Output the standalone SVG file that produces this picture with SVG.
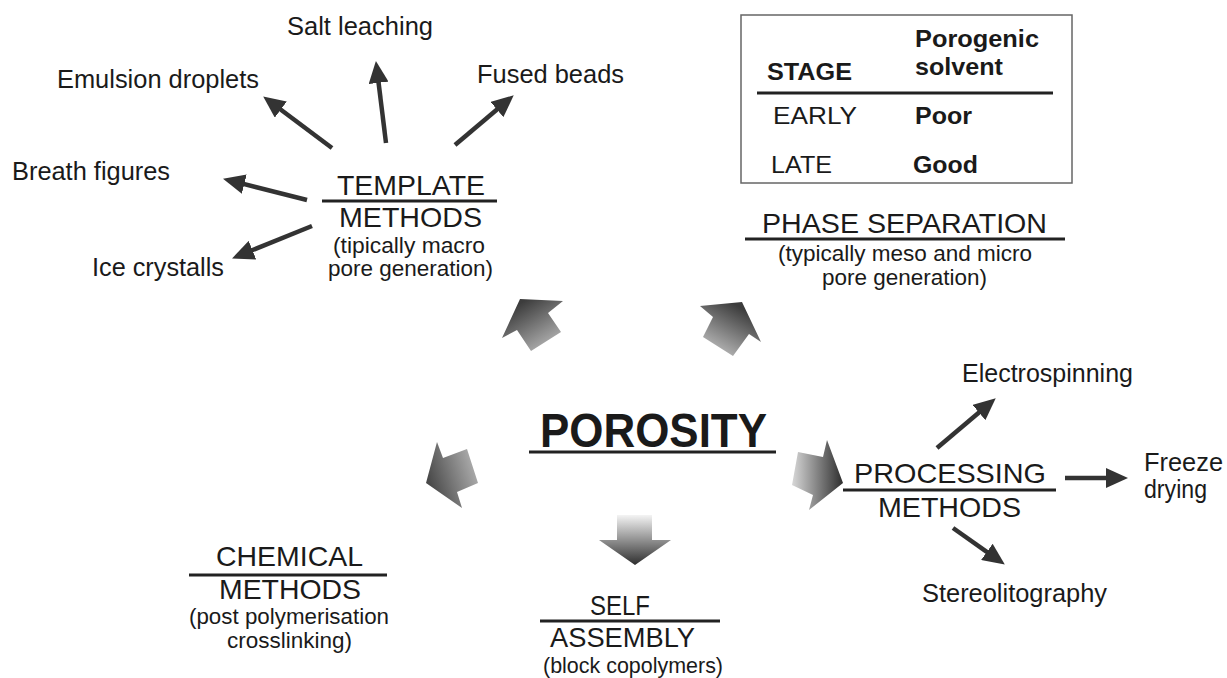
<svg xmlns="http://www.w3.org/2000/svg" width="1227" height="678" viewBox="0 0 1227 678">
<style>
text{font-family:"Liberation Sans",Arial,sans-serif;fill:#1a1a1a}
.lab{font-size:25px}
.hd{font-size:28px}
.sm{font-size:22px}
.b{font-weight:bold}
.ul{stroke:#222;stroke-width:3}
.con{stroke:#333;stroke-width:4.5;fill:none;marker-end:url(#ah)}
</style>
<defs>
<marker id="ah" viewBox="0 0 22 20" refX="9" refY="10" markerWidth="22" markerHeight="20" markerUnits="userSpaceOnUse" orient="auto">
<path d="M0,0 L22,10 L0,20 z" fill="#333"/>
</marker>
<linearGradient id="g1" gradientUnits="userSpaceOnUse" x1="522" y1="302" x2="550" y2="348"><stop offset="0" stop-color="#3c3c3c"/><stop offset="1" stop-color="#b4b4b4"/></linearGradient>
<linearGradient id="g2" gradientUnits="userSpaceOnUse" x1="738" y1="306" x2="712" y2="352"><stop offset="0" stop-color="#3c3c3c"/><stop offset="1" stop-color="#bcbcbc"/></linearGradient>
<linearGradient id="g3" gradientUnits="userSpaceOnUse" x1="428" y1="478" x2="478" y2="462"><stop offset="0" stop-color="#4a4a4a"/><stop offset="1" stop-color="#b4b4b4"/></linearGradient>
<linearGradient id="g4" gradientUnits="userSpaceOnUse" x1="0" y1="515" x2="0" y2="565"><stop offset="0" stop-color="#f4f4f4"/><stop offset="1" stop-color="#2e2e2e"/></linearGradient>
<linearGradient id="g5" gradientUnits="userSpaceOnUse" x1="792" y1="0" x2="843" y2="0"><stop offset="0" stop-color="#d8d8d8"/><stop offset="1" stop-color="#2e2e2e"/></linearGradient>
</defs>

<g id="connectors">
<line class="con" x1="332" y1="148" x2="273.6" y2="104.2"/>
<line class="con" x1="386" y1="143" x2="377.5" y2="73.9"/>
<line class="con" x1="455" y1="145" x2="503.8" y2="103.7"/>
<line class="con" x1="307" y1="200" x2="235.6" y2="181.9"/>
<line class="con" x1="312" y1="226" x2="244.1" y2="253.5"/>
<line class="con" x1="937" y1="448" x2="985.8" y2="406.7"/>
<line class="con" x1="1065" y1="478" x2="1115" y2="478"/>
<line class="con" x1="953" y1="528" x2="994.2" y2="557.1"/>
<polygon id="arrow-template" fill="url(#g1)" points="520,299 563,301 548,313 561,332 531,351 517,330 502,338"/>
<polygon id="arrow-phase" fill="url(#g2)" points="700,306 742,302 761,342 749,334 733,356 703,337 713,317"/>
<polygon id="arrow-chemical" fill="url(#g3)" points="437,442 443,458 467,449 478,483 457,492 462,508 426,483"/>
<polygon id="arrow-self" fill="url(#g4)" points="617,515 652,515 652,540 671,540 635,565 599,540 617,540"/>
<polygon id="arrow-processing" fill="url(#g5)" points="798,452 823,457 827,440 843,483 809,510 813,495 792,485"/>
</g>

<g id="porosity">
<text class="b" x="540" y="447" font-size="48" textLength="227" lengthAdjust="spacingAndGlyphs">POROSITY</text>
<line class="ul" x1="529" y1="452" x2="776" y2="452"/>
</g>

<g id="template">
<text class="hd" x="337" y="195" textLength="148" lengthAdjust="spacingAndGlyphs">TEMPLATE</text>
<line class="ul" x1="322" y1="201" x2="497" y2="201"/>
<text class="hd" x="339" y="227" textLength="143" lengthAdjust="spacingAndGlyphs">METHODS</text>
<text class="sm" x="333" y="253" textLength="152" lengthAdjust="spacingAndGlyphs">(tipically macro</text>
<text class="sm" x="328" y="276" textLength="165" lengthAdjust="spacingAndGlyphs">pore generation)</text>
</g>

<g id="salt"><text class="lab" x="287" y="35" textLength="146" lengthAdjust="spacingAndGlyphs">Salt leaching</text></g>
<g id="emulsion"><text class="lab" x="57" y="88" textLength="202" lengthAdjust="spacingAndGlyphs">Emulsion droplets</text></g>
<g id="fused"><text class="lab" x="477" y="83" textLength="147" lengthAdjust="spacingAndGlyphs">Fused beads</text></g>
<g id="breath"><text class="lab" x="12" y="180" textLength="158" lengthAdjust="spacingAndGlyphs">Breath figures</text></g>
<g id="ice"><text class="lab" x="92" y="276" textLength="132" lengthAdjust="spacingAndGlyphs">Ice crystalls</text></g>

<g id="table">
<rect x="741" y="15" width="331" height="168" fill="none" stroke="#666" stroke-width="1.5"/>
<text class="b" x="767" y="80" font-size="24" textLength="85" lengthAdjust="spacingAndGlyphs">STAGE</text>
<text class="b" x="915" y="47" font-size="24" textLength="124" lengthAdjust="spacingAndGlyphs">Porogenic</text>
<text class="b" x="915" y="75" font-size="24" textLength="88" lengthAdjust="spacingAndGlyphs">solvent</text>
<line class="ul" x1="757" y1="93" x2="1053" y2="93"/>
<text x="773" y="124" font-size="24" textLength="84" lengthAdjust="spacingAndGlyphs">EARLY</text>
<text class="b" x="915" y="124" font-size="24" textLength="57" lengthAdjust="spacingAndGlyphs">Poor</text>
<text x="771" y="173" font-size="24" textLength="61" lengthAdjust="spacingAndGlyphs">LATE</text>
<text class="b" x="913" y="173" font-size="24" textLength="65" lengthAdjust="spacingAndGlyphs">Good</text>
</g>

<g id="phase">
<text class="hd" x="762" y="233" textLength="285" lengthAdjust="spacingAndGlyphs">PHASE SEPARATION</text>
<line class="ul" x1="745" y1="239" x2="1065" y2="239"/>
<text class="sm" x="778" y="261" textLength="254" lengthAdjust="spacingAndGlyphs">(typically meso and micro</text>
<text class="sm" x="822" y="285" textLength="165" lengthAdjust="spacingAndGlyphs">pore generation)</text>
</g>

<g id="chemical">
<text class="hd" x="216" y="566" textLength="147" lengthAdjust="spacingAndGlyphs">CHEMICAL</text>
<line class="ul" x1="189" y1="575" x2="387" y2="575"/>
<text class="hd" x="219" y="599" textLength="142" lengthAdjust="spacingAndGlyphs">METHODS</text>
<text class="sm" x="189" y="624" textLength="200" lengthAdjust="spacingAndGlyphs">(post polymerisation</text>
<text class="sm" x="227" y="648" textLength="125" lengthAdjust="spacingAndGlyphs">crosslinking)</text>
</g>

<g id="self">
<text class="hd" x="590" y="615" textLength="60" lengthAdjust="spacingAndGlyphs">SELF</text>
<line class="ul" x1="540" y1="621" x2="720" y2="621"/>
<text class="hd" x="550" y="647" textLength="145" lengthAdjust="spacingAndGlyphs">ASSEMBLY</text>
<text class="sm" x="543" y="673" textLength="180" lengthAdjust="spacingAndGlyphs">(block copolymers)</text>
</g>

<g id="processing">
<text class="hd" x="854" y="483" textLength="192" lengthAdjust="spacingAndGlyphs">PROCESSING</text>
<line class="ul" x1="843" y1="490" x2="1056" y2="490"/>
<text class="hd" x="878" y="517" textLength="143" lengthAdjust="spacingAndGlyphs">METHODS</text>
</g>

<g id="electrospinning"><text class="lab" x="962" y="382" textLength="171" lengthAdjust="spacingAndGlyphs">Electrospinning</text></g>
<g id="freeze"><text class="lab" x="1144" y="471" textLength="79" lengthAdjust="spacingAndGlyphs">Freeze</text><text class="lab" x="1144" y="498" textLength="63" lengthAdjust="spacingAndGlyphs">drying</text></g>
<g id="stereo"><text class="lab" x="922" y="602" textLength="185" lengthAdjust="spacingAndGlyphs">Stereolitography</text></g>
</svg>
